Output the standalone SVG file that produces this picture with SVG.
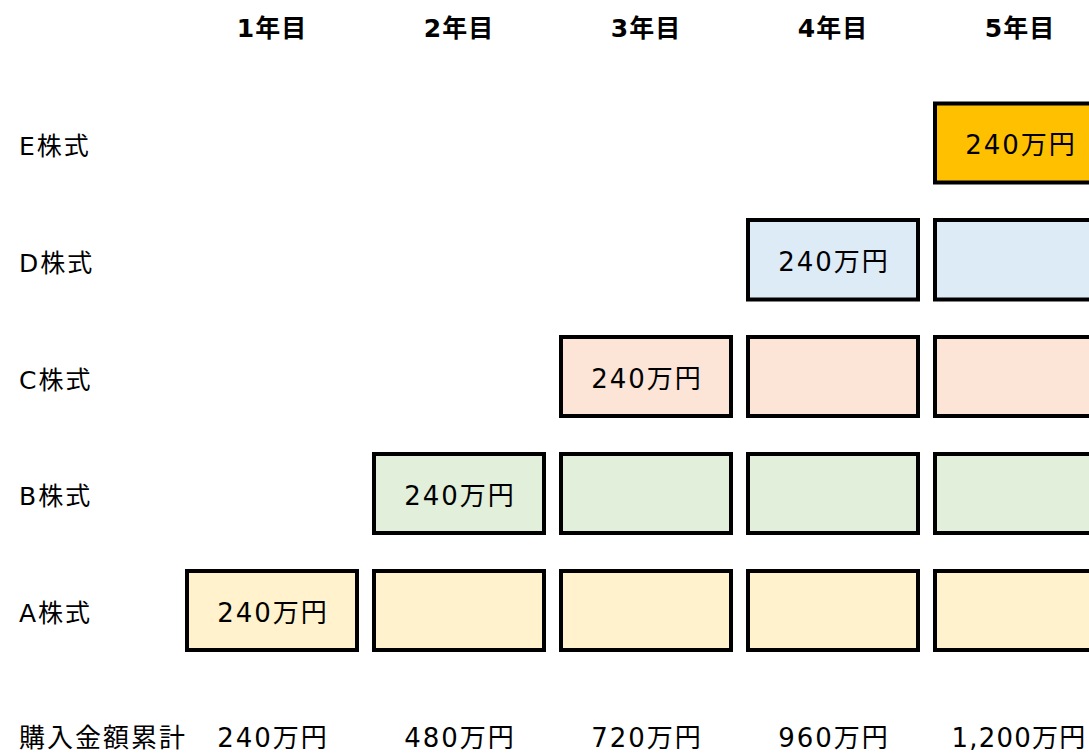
<svg xmlns="http://www.w3.org/2000/svg" width="1089" height="754" viewBox="0 0 1089 754">
<style>
.t{font-family:"DejaVu Sans","Noto Sans CJK JP",sans-serif;fill:#000}
.h{font-size:25px;font-weight:bold;text-anchor:middle;letter-spacing:1px}
.lb{font-size:25px;letter-spacing:2px}
.tot{font-size:26px;letter-spacing:2px}
.v{font-size:26px;text-anchor:middle;letter-spacing:2px}
.b{stroke:#000;stroke-width:4}
.cA{fill:#FFF2CC}.cB{fill:#E2EFDA}.cC{fill:#FCE4D6}.cD{fill:#DDEBF7}.cE{fill:#FFC000}
</style>
<rect width="1089" height="754" fill="#fff"/>
<g id="headers">
<text class="t h" x="272" y="37">1年目</text>
<text class="t h" x="459" y="37">2年目</text>
<text class="t h" x="646" y="37">3年目</text>
<text class="t h" x="833" y="37">4年目</text>
<text class="t h" x="1020" y="37">5年目</text>
</g>
<g id="labels">
<text class="t lb" x="19" y="155">E株式</text>
<text class="t lb" x="19" y="272">D株式</text>
<text class="t lb" x="19" y="389">C株式</text>
<text class="t lb" x="19" y="505">B株式</text>
<text class="t lb" x="19" y="622">A株式</text>
</g>
<g id="rowE">
<rect class="b cE" x="935" y="103.5" width="170" height="79"/>
<text class="t v" x="1021" y="154">240万円</text>
</g>
<g id="rowD">
<rect class="b cD" x="748" y="220" width="170" height="79.5"/>
<rect class="b cD" x="935" y="220" width="170" height="79.5"/>
<text class="t v" x="834" y="271">240万円</text>
</g>
<g id="rowC">
<rect class="b cC" x="561" y="337" width="170" height="79"/>
<rect class="b cC" x="748" y="337" width="170" height="79"/>
<rect class="b cC" x="935" y="337" width="170" height="79"/>
<text class="t v" x="647" y="388">240万円</text>
</g>
<g id="rowB">
<rect class="b cB" x="374" y="454" width="170" height="79"/>
<rect class="b cB" x="561" y="454" width="170" height="79"/>
<rect class="b cB" x="748" y="454" width="170" height="79"/>
<rect class="b cB" x="935" y="454" width="170" height="79"/>
<text class="t v" x="460" y="505">240万円</text>
</g>
<g id="rowA">
<rect class="b cA" x="187" y="571" width="170" height="79"/>
<rect class="b cA" x="374" y="571" width="170" height="79"/>
<rect class="b cA" x="561" y="571" width="170" height="79"/>
<rect class="b cA" x="748" y="571" width="170" height="79"/>
<rect class="b cA" x="935" y="571" width="170" height="79"/>
<text class="t v" x="273" y="622">240万円</text>
</g>
<g id="totals">
<text class="t tot" x="19" y="747">購入金額累計</text>
<text class="t v" x="273" y="747">240万円</text>
<text class="t v" x="460" y="747">480万円</text>
<text class="t v" x="647" y="747">720万円</text>
<text class="t v" x="834" y="747">960万円</text>
<text class="t v" x="1019" y="747" style="letter-spacing:1.2px">1,200万円</text>
</g>
</svg>
